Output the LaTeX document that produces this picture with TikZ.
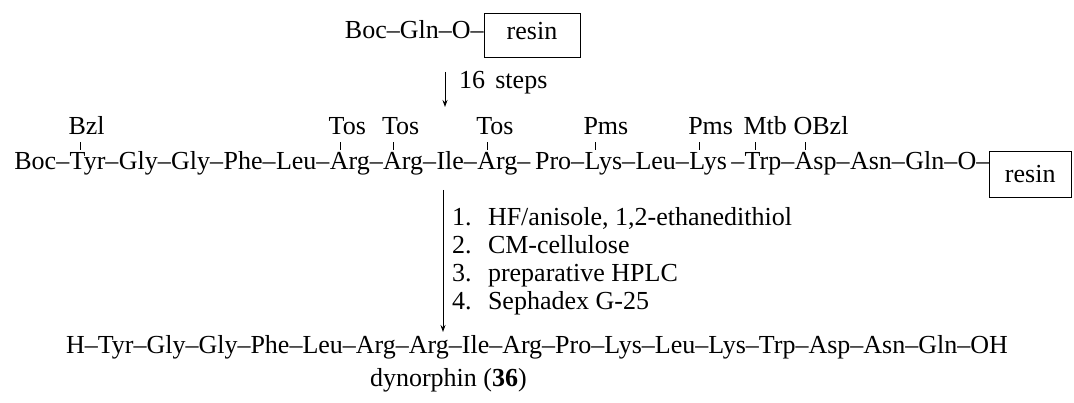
\documentclass[tikz,border=0pt]{standalone}
\usepackage{fontspec}
\setmainfont{Liberation Serif}
\usetikzlibrary{arrows.meta,fit}
\begin{document}
\begin{tikzpicture}[x=1pt,y=1pt,
  font=\fontsize{26}{31}\selectfont,
  seq/.style={inner sep=0pt, outer sep=0pt, anchor=base west},
  bond/.style={line width=0.8pt},
  pg/.style={anchor=base west, inner sep=0pt, xshift=-12pt, yshift=7pt},
  rxn/.style={line width=0.9pt, -{Stealth[length=7pt,width=5pt]}},
  tbox/.style={draw, line width=0.8pt, inner sep=0pt}]
\useasboundingbox (0,0) rectangle (1074,-403);

% starting material on the resin
\node[tbox, minimum width=96pt, minimum height=44pt] (box1) at (532,-35) {};
\node[anchor=base, inner sep=0pt] (resin1) at (box1.center |- 0,-40) {resin};
\node[seq, anchor=base east] (top) at (box1.west |- 0,-39) {Boc--Gln--O--};

% chain assembly
\coordinate (a1s) at (445,-72);
\coordinate (a1e) at (445,-107);
\draw[rxn] (a1s) -- (a1e);
\node[seq] (steps) at (459,-89) {16\hspace{0.4em}steps};

% protected peptide on the resin, one node per residue
\node[seq] (r0) at (13,-170) {};
\foreach \t [count=\i, remember=\i as \j (initially 0)] in
  {Boc--, Tyr--, Gly--, Gly--, Phe--, Leu--, Arg--, Arg--, Ile--, Arg--\,,
   Pro--, Lys--, Leu--, Lys\,--, Trp--, Asp--, Asn--, Gln--, O--}
  \node[seq] (r\i) at ([xshift=0.4pt]r\j.base east) {\t};

% side-chain protecting groups
\foreach \i/\lab in {2/Bzl, 7/Tos, 8/Tos, 10/Tos, 12/Pms, 14/Pms, 15/Mtb, 16/OBzl}
  \draw[bond] ([xshift=10.5pt, yshift=20pt]r\i.base west) -- ++(0,8)
    node[pg] (p\i) {\lab};

\coordinate (b2a) at (r19.base east |- 0,-151);
\coordinate (b2b) at (1071,-197);
\node[tbox, fit=(b2a)(b2b)] (box2) {};
\node[inner sep=0pt] (resin2) at (box2.center) {resin};

% cleavage and purification
\coordinate (a2s) at (443,-190);
\coordinate (a2e) at (443,-332);
\draw[rxn] (a2s) -- (a2e);
\node[seq] (n1) at (452,-226) {1.};
\node[seq] (s1) at (488,-226) {HF/anisole, 1,2-ethanedithiol};
\node[seq] (n2) at (452,-254) {2.};
\node[seq] (s2) at (488,-254) {CM-cellulose};
\node[seq] (n3) at (452,-282) {3.};
\node[seq] (s3) at (488,-282) {preparative HPLC};
\node[seq] (n4) at (452,-310) {4.};
\node[seq] (s4) at (488,-310) {Sephadex G-25};

% free peptide
\node[seq] (prod) at (66,-354)
  {H--Tyr--Gly--Gly--Phe--Leu--Arg--Arg--Ile--Arg--Pro--Lys--Leu--Lys--Trp--Asp--Asn--Gln--OH};
\node[seq] (name) at (370,-386) {dynorphin (\textbf{36})};
\end{tikzpicture}
\end{document}
